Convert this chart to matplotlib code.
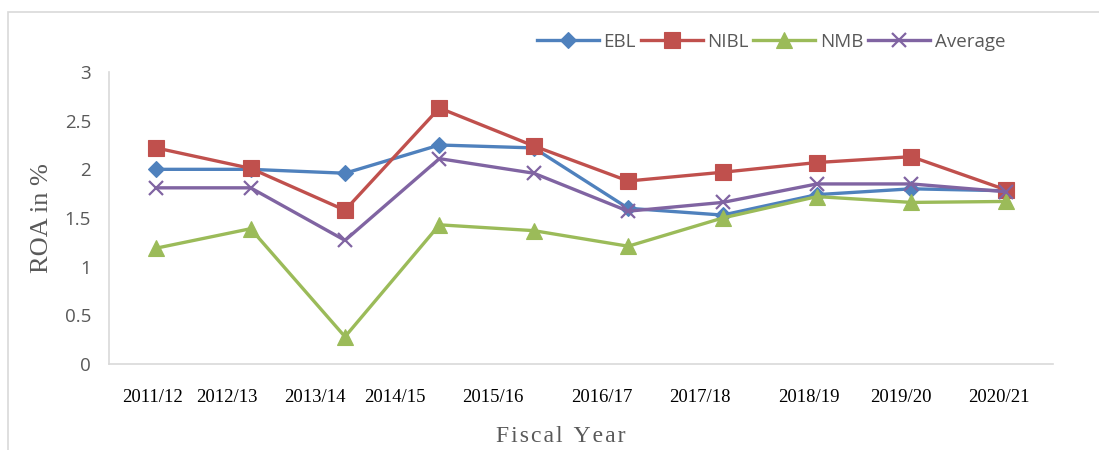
import matplotlib
matplotlib.use("Agg")
import matplotlib.pyplot as plt
from matplotlib.patches import Rectangle

years = ["2011/12", "2012/13", "2013/14", "2014/15", "2015/16",
         "2016/17", "2017/18", "2018/19", "2019/20", "2020/21"]
ebl = [2.00, 2.00, 1.96, 2.25, 2.22, 1.60, 1.53, 1.74, 1.80, 1.78]
nibl = [2.22, 2.01, 1.58, 2.63, 2.24, 1.88, 1.97, 2.07, 2.13, 1.79]
nmb = [1.19, 1.39, 0.28, 1.43, 1.37, 1.21, 1.50, 1.72, 1.66, 1.67]
average = [1.81, 1.81, 1.27, 2.11, 1.96, 1.57, 1.66, 1.85, 1.85, 1.77]
yticks = [0, 0.5, 1, 1.5, 2, 2.5, 3]

# where the category labels sit along the axis in the original (layout only)
label_pos = [-0.04, 0.75, 1.68, 2.53, 3.57, 4.72, 5.76, 6.91, 7.89, 8.93]

fig = plt.figure(figsize=(10.99, 4.5), dpi=100)
fig.patches.append(Rectangle((8 / 1099, -0.1), 1.2, 1 - 12 / 450 + 0.1,
                             transform=fig.transFigure, fill=False,
                             edgecolor="#d9d9d9", linewidth=1.2))
ax = fig.add_axes([109 / 1099, 1 - 364 / 450, (1053 - 109) / 1099, (364 - 72) / 450])

x = list(range(len(years)))
series = [
    ("EBL", ebl, "#4F81BD", "D", 8.5),
    ("NIBL", nibl, "#C0504D", "s", 11),
    ("NMB", nmb, "#9BBB59", "^", 11),
    ("Average", average, "#8064A2", "x", 10),
]
for name, vals, col, mk, ms in series:
    ax.plot(x, vals, color=col, marker=mk, markersize=ms, linewidth=2.4,
            markeredgewidth=1.6 if mk == "x" else 0.8, label=name)

ax.set_xlim(-0.5, 9.5)
ax.set_ylim(0, 3)
ax.set_yticks(yticks)
ax.set_yticklabels(["0", "0.5", "1", "1.5", "2", "2.5", "3"],
                   fontfamily="Open Sans", fontsize=13.5, color="#595959")
ax.set_xticks(label_pos)
ax.set_xticklabels(years, fontfamily="Liberation Serif", fontsize=13.5, color="black")
ax.tick_params(axis="both", length=0)
ax.tick_params(axis="y", pad=13)
ax.tick_params(axis="x", pad=18)
for s in ["top", "right"]:
    ax.spines[s].set_visible(False)
for s in ["left", "bottom"]:
    ax.spines[s].set_color("#d9d9d9")
    ax.spines[s].set_linewidth(1.2)

ax.set_ylabel("ROA in %", fontfamily="Liberation Serif", fontsize=19, color="#595959",
              labelpad=8)
fig.text(561 / 1099, 1 - 437 / 450, "F\u200ai\u200as\u200ac\u200aa\u200al  Y\u200ae\u200aa\u200ar",
         ha="center", va="center",
         fontfamily="Liberation Serif", fontsize=17, color="#595959")

leg = ax.legend(loc="center", bbox_to_anchor=(771 / 1099, 1 - 42 / 450),
                bbox_transform=fig.transFigure, ncol=4, frameon=False,
                handlelength=3.3, columnspacing=0.25, handletextpad=0.25,
                prop={"family": "Open Sans", "size": 13.5})
for t in leg.get_texts():
    t.set_color("#595959")

fig.savefig("out.png", dpi=100)
